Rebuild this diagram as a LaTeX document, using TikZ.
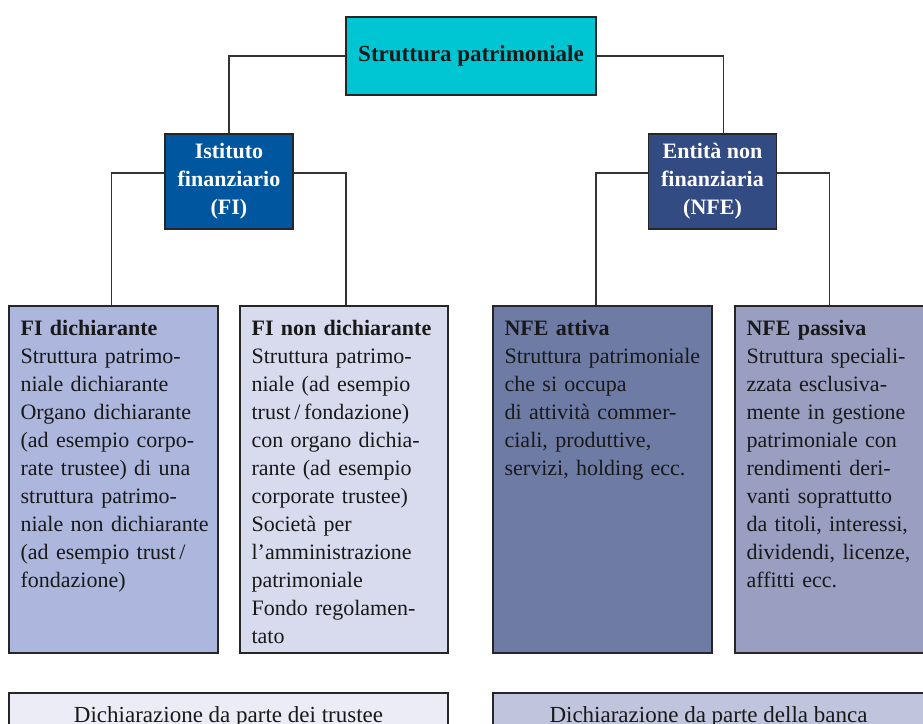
\documentclass[tikz,border=0pt]{standalone}
\usepackage{fontspec}
\setmainfont{Liberation Serif}
\usetikzlibrary{positioning,calc}
\definecolor{topcyan}{RGB}{0,198,212}
\definecolor{fiblue}{RGB}{0,87,160}
\definecolor{nfeblue}{RGB}{50,75,130}
\definecolor{fidfill}{RGB}{173,182,220}
\definecolor{finfill}{RGB}{216,219,238}
\definecolor{nfafill}{RGB}{110,123,165}
\definecolor{nfpfill}{RGB}{154,158,192}
\definecolor{trustfill}{RGB}{236,236,246}
\definecolor{bankfill}{RGB}{192,196,220}

\begin{document}
\begin{tikzpicture}[x=0.5pt, y=-0.5pt,
    linkline/.style={draw=black!80, line width=0.75pt},
    headbox/.style={draw=black!85, line width=0.8pt, minimum width=64pt, minimum height=47.5pt, align=center, text=white, font=\fontsize{11}{14}\selectfont\bfseries},
    leafbox/.style={draw=black!85, line width=0.8pt, minimum height=173.5pt},
    leaftext/.style={anchor=north west, inner sep=0pt, align=left, text=black!90, font=\fontsize{11}{14}\selectfont},
    notebox/.style={draw=black!85, line width=0.8pt, minimum height=24pt, text=black!90, font=\fontsize{11.5}{14}\selectfont}]
  \useasboundingbox (0,0) rectangle (923,724);
  \clip (0,0) rectangle (923,724);

  % Top
  \node[draw=black!85, line width=0.8pt, fill=topcyan, minimum width=125pt, minimum height=39pt, text=black!90, font=\fontsize{11.5}{14}\selectfont\bfseries] (top) at (471,56) {Struttura patrimoniale};

  % Second level
  \node[headbox, fill=fiblue] (fi) at (229,181.5) {Istituto\\finanziario\\(FI)};
  \node[headbox, fill=nfeblue] (nfe) at (712.5,181.5) {Entità non\\finanziaria\\(NFE)};
  \draw[linkline] (top.west) -| (fi.north);
  \draw[linkline] (top.east) -| ([xshift=5.5pt]nfe.north);

  % Leaves
  \node[leafbox, fill=fidfill, minimum width=104.5pt] (fid) at (113.5,479.5) {};
  \node[leafbox, fill=finfill, minimum width=104pt] (fin) at (344,479.5) {};
  \node[leafbox, fill=nfafill, minimum width=109.5pt] (nfa) at (602.5,479.5) {};
  \node[leafbox, fill=nfpfill, minimum width=94.5pt] (nfp) at (829.5,479.5) {};

  \node[leaftext, text width=97pt] (fidtext) at ([shift={(6pt,-7.5pt)}]fid.north west)
    {\textbf{FI dichiarante}\\Struttura patrimo-\\niale dichiarante\\Organo dichiarante\\(ad esempio corpo-\\rate trustee) di una\\struttura patrimo-\\niale non dichiarante\\(ad esempio trust\,/\\fondazione)};
  \node[leaftext, text width=96pt] (fintext) at ([shift={(6pt,-7.5pt)}]fin.north west)
    {\textbf{FI non dichiarante}\\Struttura patrimo-\\niale (ad esempio\\trust\,/\,fondazione)\\con organo dichia-\\rante (ad esempio\\corporate trustee)\\Società per\\l’amministrazione\\patrimoniale\\Fondo regolamen-\\tato};
  \node[leaftext, text width=102pt] (nfatext) at ([shift={(6pt,-7.5pt)}]nfa.north west)
    {\textbf{NFE attiva}\\Struttura patrimoniale\\che si occupa\\di attività commer-\\ciali, produttive,\\servizi, holding ecc.};
  \node[leaftext, text width=87pt] (nfptext) at ([shift={(6pt,-7.5pt)}]nfp.north west)
    {\textbf{NFE passiva}\\Struttura speciali-\\zzata esclusiva-\\mente in gestione\\patrimoniale con\\rendimenti deri-\\vanti soprattutto\\da titoli, interessi,\\dividendi, licenze,\\affitti ecc.};

  \draw[linkline] ([yshift=4.25pt]fi.west) -| ([xshift=-1pt]fid.north);
  \draw[linkline] ([yshift=4.25pt]fi.east) -| ([xshift=1pt]fin.north);
  \draw[linkline] ([yshift=4.25pt]nfe.west) -| ([xshift=-3.25pt]nfa.north);
  \draw[linkline] ([yshift=4.25pt]nfe.east) -| (nfp.north);

  % Bottom notes
  \node[notebox, fill=trustfill, minimum width=219.5pt] (trust) at (228.5,717) {Dichiarazione da parte dei trustee};
  \node[notebox, fill=bankfill, minimum width=215.5pt] (bank) at (708.5,717) {Dichiarazione da parte della banca};
\end{tikzpicture}
\end{document}
